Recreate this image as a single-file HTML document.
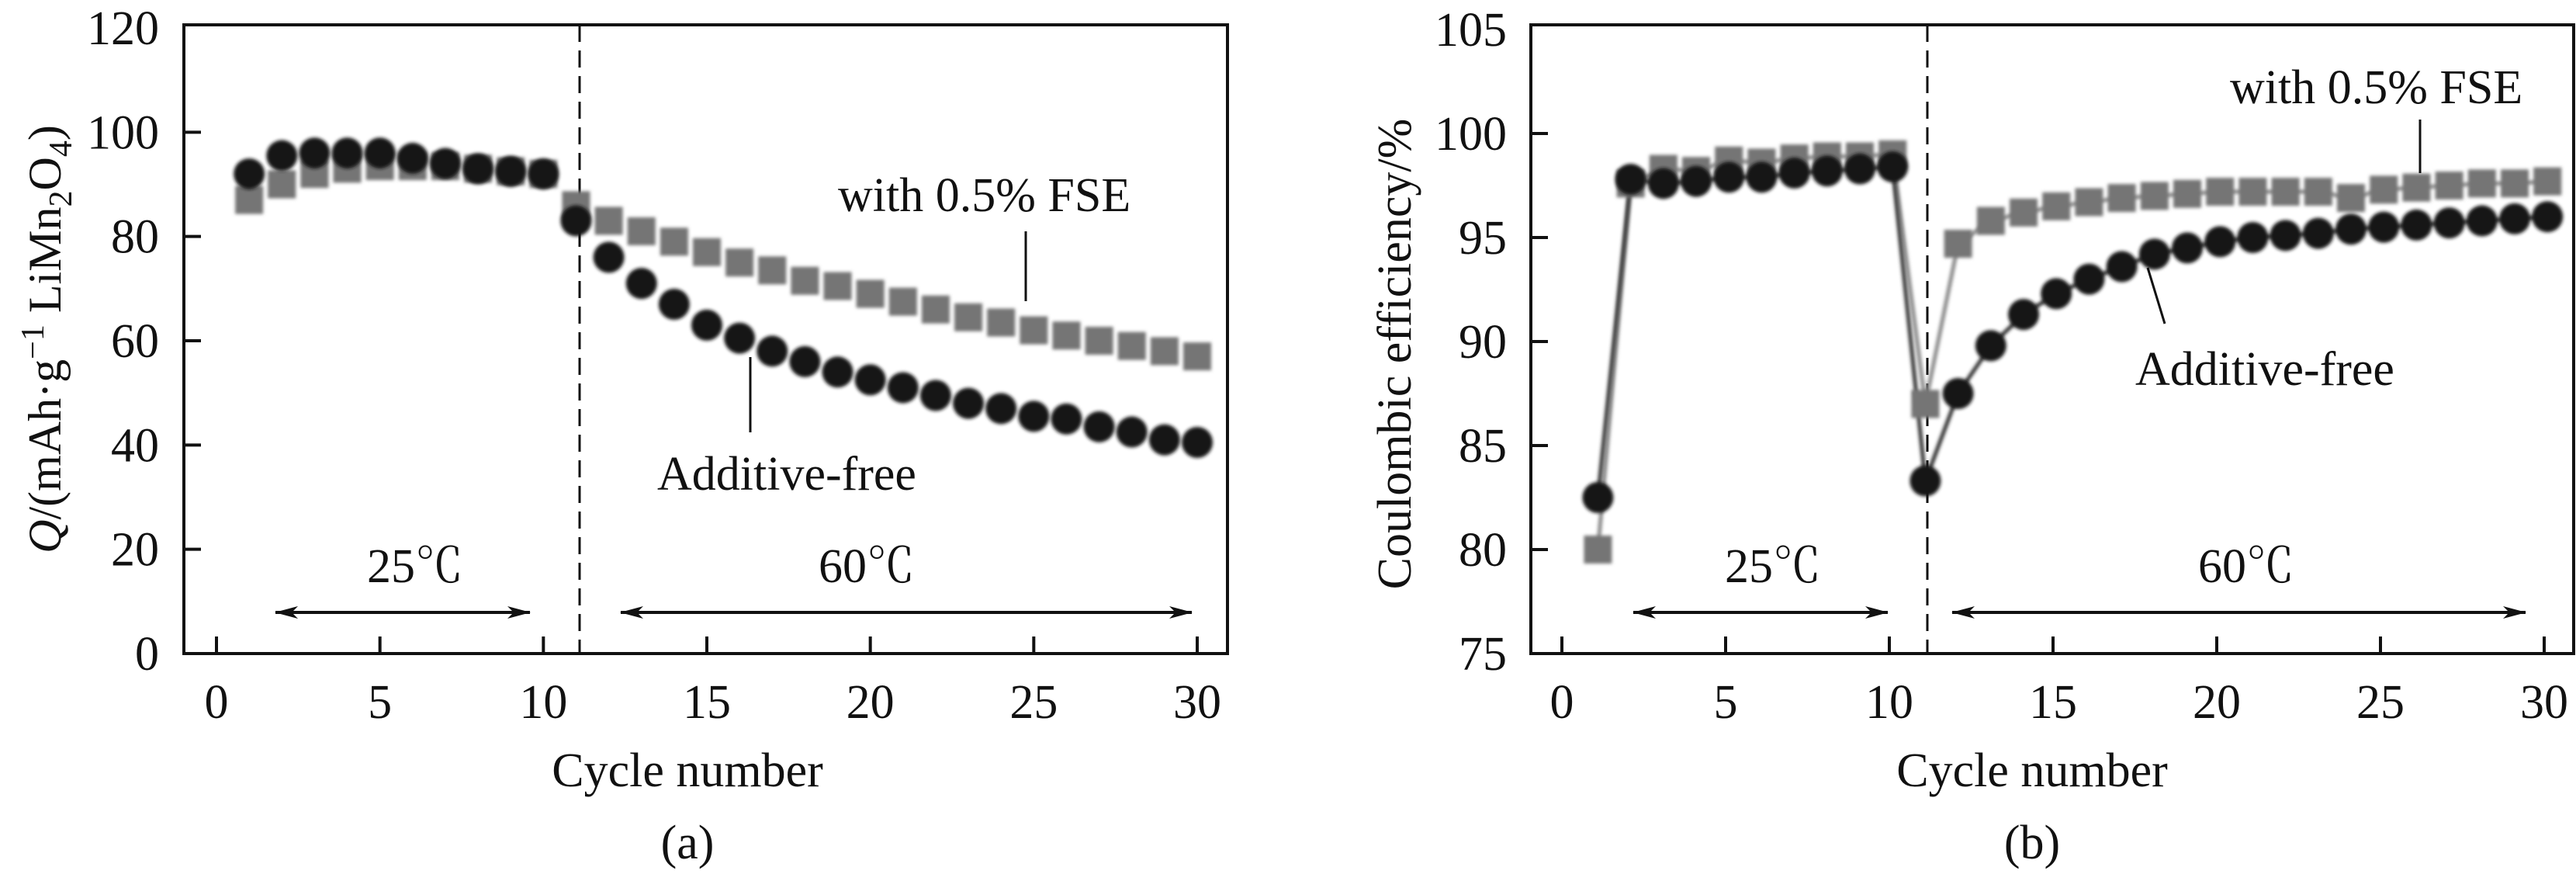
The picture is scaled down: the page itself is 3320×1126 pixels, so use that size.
<!DOCTYPE html>
<html><head><meta charset="utf-8"><style>
html,body{margin:0;padding:0;background:#fff;}
svg{display:block;font-family:"Liberation Serif",serif;}
text{fill:#111;}
.deg{font-family:"Liberation Serif","Noto Serif CJK SC",serif;}
</style></head><body>
<svg id="fig" width="3320" height="1126" viewBox="0 0 3320 1126" xmlns="http://www.w3.org/2000/svg">
<defs>
<filter id="blur" x="-30%" y="-30%" width="160%" height="160%"><feGaussianBlur stdDeviation="2.2"/></filter>
<marker id="ah" viewBox="0 0 30 16" refX="29" refY="8" markerWidth="30" markerHeight="16" markerUnits="userSpaceOnUse" orient="auto-start-reverse"><path d="M0,0 L30,8 L0,16 L8,8 Z" fill="#111"/></marker>
</defs>
</svg>
<script>
// ---- Panel (a) data ----
const cycles = [1,2,3,4,5,6,7,8,9,10,11,12,13,14,15,16,17,18,19,20,21,22,23,24,25,26,27,28,29,30];
const capFree = [92,95.5,96,96,96,95,94,93,92.5,92,83,76,71,67,63,60.5,58,56,54,52.5,51,49.5,48,47,45.5,45,43.5,42.5,41,40.5];
const capFSE = [87,90,92,93,93.5,93.5,93.5,93,92.5,92,86,83,81,79,77,75,73.5,71.5,70.5,69,67.5,66,64.5,63.5,62,61,60,59,58,57];
const capTicksY = [0,20,40,60,80,100,120];
// ---- Panel (b) data ----
const ceFree = [82.5,97.8,97.6,97.7,97.9,97.9,98.1,98.2,98.3,98.4,83.3,87.5,89.8,91.3,92.3,93,93.6,94.2,94.5,94.8,95,95.1,95.2,95.4,95.5,95.6,95.7,95.8,95.9,96];
const ceFSE = [80,97.6,98.3,98.2,98.7,98.6,98.8,98.9,98.9,99,87,94.7,95.8,96.2,96.5,96.7,96.9,97,97.1,97.2,97.2,97.2,97.2,96.9,97.3,97.4,97.5,97.6,97.6,97.7];
const ceTicksY = [75,80,85,90,95,100,105];
const xTicks = [0,5,10,15,20,25,30];

const NS="http://www.w3.org/2000/svg";
const svg=document.getElementById('fig');
function el(tag,attrs,parent){const e=document.createElementNS(NS,tag);for(const k in attrs)e.setAttribute(k,attrs[k]);(parent||svg).appendChild(e);return e;}
function txt(s,x,y,anchor,parent,size){const t=el('text',{x:x,y:y,'text-anchor':anchor||'middle','font-size':size||62},parent);t.textContent=s;return t;}

function panel(cfg){
  const g=el('g',{});
  
  
  const X=v=>cfg.x0+(v-0)*(cfg.x30-cfg.x0)/30;
  const Y=v=>cfg.yb+(v-cfg.ymin)*(cfg.yt-cfg.yb)/(cfg.ymax-cfg.ymin);
  const box=el('rect',{x:cfg.bl,y:32,width:cfg.br-cfg.bl,height:842-32,fill:'none',stroke:'#111','stroke-width':4},g);
  
  
  xTicks.forEach(v=>{
    const l=el('line',{x1:X(v),x2:X(v),y1:842,y2:820,stroke:'#111','stroke-width':4},g);
    
    
    const t=txt(String(v),X(v),925,'middle',g);
    
    
  });
  cfg.ticksY.forEach(v=>{
    if(v!==cfg.ymin && v!==cfg.ymax){
      const l=el('line',{x1:cfg.bl,x2:cfg.bl+22,y1:Y(v),y2:Y(v),stroke:'#111','stroke-width':4},g);
      
      
    }
    const t=txt(String(v),cfg.labR,Y(v)+21,'end',g);
    
    
  });
  const d=el('line',{x1:cfg.dash,x2:cfg.dash,y1:32,y2:842,stroke:'#111','stroke-width':3,'stroke-dasharray':'22 11'},g);
  
  
  const mk=(arr)=>arr.map((v,i)=>X(cycles[i]+cfg.dx)+','+Y(v)).join(' ');
  if(cfg.lines){
    const l1=el('polyline',{points:mk(cfg.fse),fill:'none',stroke:'#888','stroke-width':5,filter:'url(#blur)'},g);
    
    
    const l2=el('polyline',{points:mk(cfg.free),fill:'none',stroke:'#333','stroke-width':5,filter:'url(#blur)'},g);
    
    
  }
  cfg.fse.forEach((v,i)=>{
    const r=el('rect',{x:X(cycles[i]+cfg.dx)-18,y:Y(v)-18,width:36,height:36,fill:'#747474',filter:'url(#blur)'},g);
    
    
  });
  cfg.free.forEach((v,i)=>{
    const c=el('circle',{cx:X(cycles[i]+cfg.dx),cy:Y(v),r:20,fill:'#151515',filter:'url(#blur)'},g);
    
    
  });
  const a1=el('line',{x1:cfg.a25[0],x2:cfg.a25[1],y1:789,y2:789,stroke:'#111','stroke-width':4,'marker-start':'url(#ah)','marker-end':'url(#ah)'},g);
  
  
  const a2=el('line',{x1:cfg.a60[0],x2:cfg.a60[1],y1:789,y2:789,stroke:'#111','stroke-width':4,'marker-start':'url(#ah)','marker-end':'url(#ah)'},g);
  
  
  const t25=txt('25℃',cfg.t25,750,'middle',g);
  t25.setAttribute('class','deg');
  
  
  const t60=txt('60℃',cfg.t60,750,'middle',g);
  t60.setAttribute('class','deg');
  
  
  const f=txt('with 0.5% FSE',cfg.fseTxt[0],cfg.fseTxt[1],'start',g);
  
  
  const fl=el('line',{x1:cfg.fseLn[0],y1:cfg.fseLn[1],x2:cfg.fseLn[2],y2:cfg.fseLn[3],stroke:'#111','stroke-width':3},g);
  
  
  const a=txt('Additive-free',cfg.freeTxt[0],cfg.freeTxt[1],'start',g);
  
  
  const al=el('line',{x1:cfg.freeLn[0],y1:cfg.freeLn[1],x2:cfg.freeLn[2],y2:cfg.freeLn[3],stroke:'#111','stroke-width':3},g);
  
  
  const xt=txt('Cycle number',cfg.cx,1013,'middle',g);
  
  
  const pl=txt(cfg.label,cfg.cx,1106,'middle',g);
  
  
  return g;
}

const ga=panel({name:'panel-a-capacity',x0:279,x30:1543,bl:237,br:1582,yb:842,yt:36,ymin:0,ymax:120,ticksY:capTicksY,labR:205,dash:747,dx:0,lines:false,
  fse:capFSE,free:capFree,a25:[355,683],a60:[800,1536],t25:535,t60:1117,
  fseTxt:[1080,272],fseLn:[1322,298,1322,388],freeTxt:[847,631],freeLn:[967,460,967,557],cx:886,label:'(a)'});
const gb=panel({name:'panel-b-efficiency',x0:2013,x30:3279,bl:1973,br:3317,yb:842,yt:38,ymin:75,ymax:105,ticksY:ceTicksY,labR:1942,dash:2484,dx:0.1,lines:true,
  fse:ceFSE,free:ceFree,a25:[2105,2433],a60:[2516,3255],t25:2285,t60:2895,
  fseTxt:[2874,133],fseLn:[3119,154,3119,223],freeTxt:[2752,496],freeLn:[2768,345,2790,417],cx:2619,label:'(b)'});

const ya=el('text',{transform:'translate(78,437) rotate(-90)','text-anchor':'middle','font-size':60});


ya.innerHTML='<tspan font-style="italic">Q</tspan>/(mAh·g<tspan dy="-22" font-size="42">−1</tspan><tspan dy="22"> LiMn</tspan><tspan dy="14" font-size="42">2</tspan><tspan dy="-14">O</tspan><tspan dy="14" font-size="42">4</tspan><tspan dy="-14">)</tspan>';
const yb=txt('Coulombic efficiency/%',0,0,'middle',null,62);
yb.setAttribute('transform','translate(1818,456) rotate(-90)');


</script>
</body></html>
